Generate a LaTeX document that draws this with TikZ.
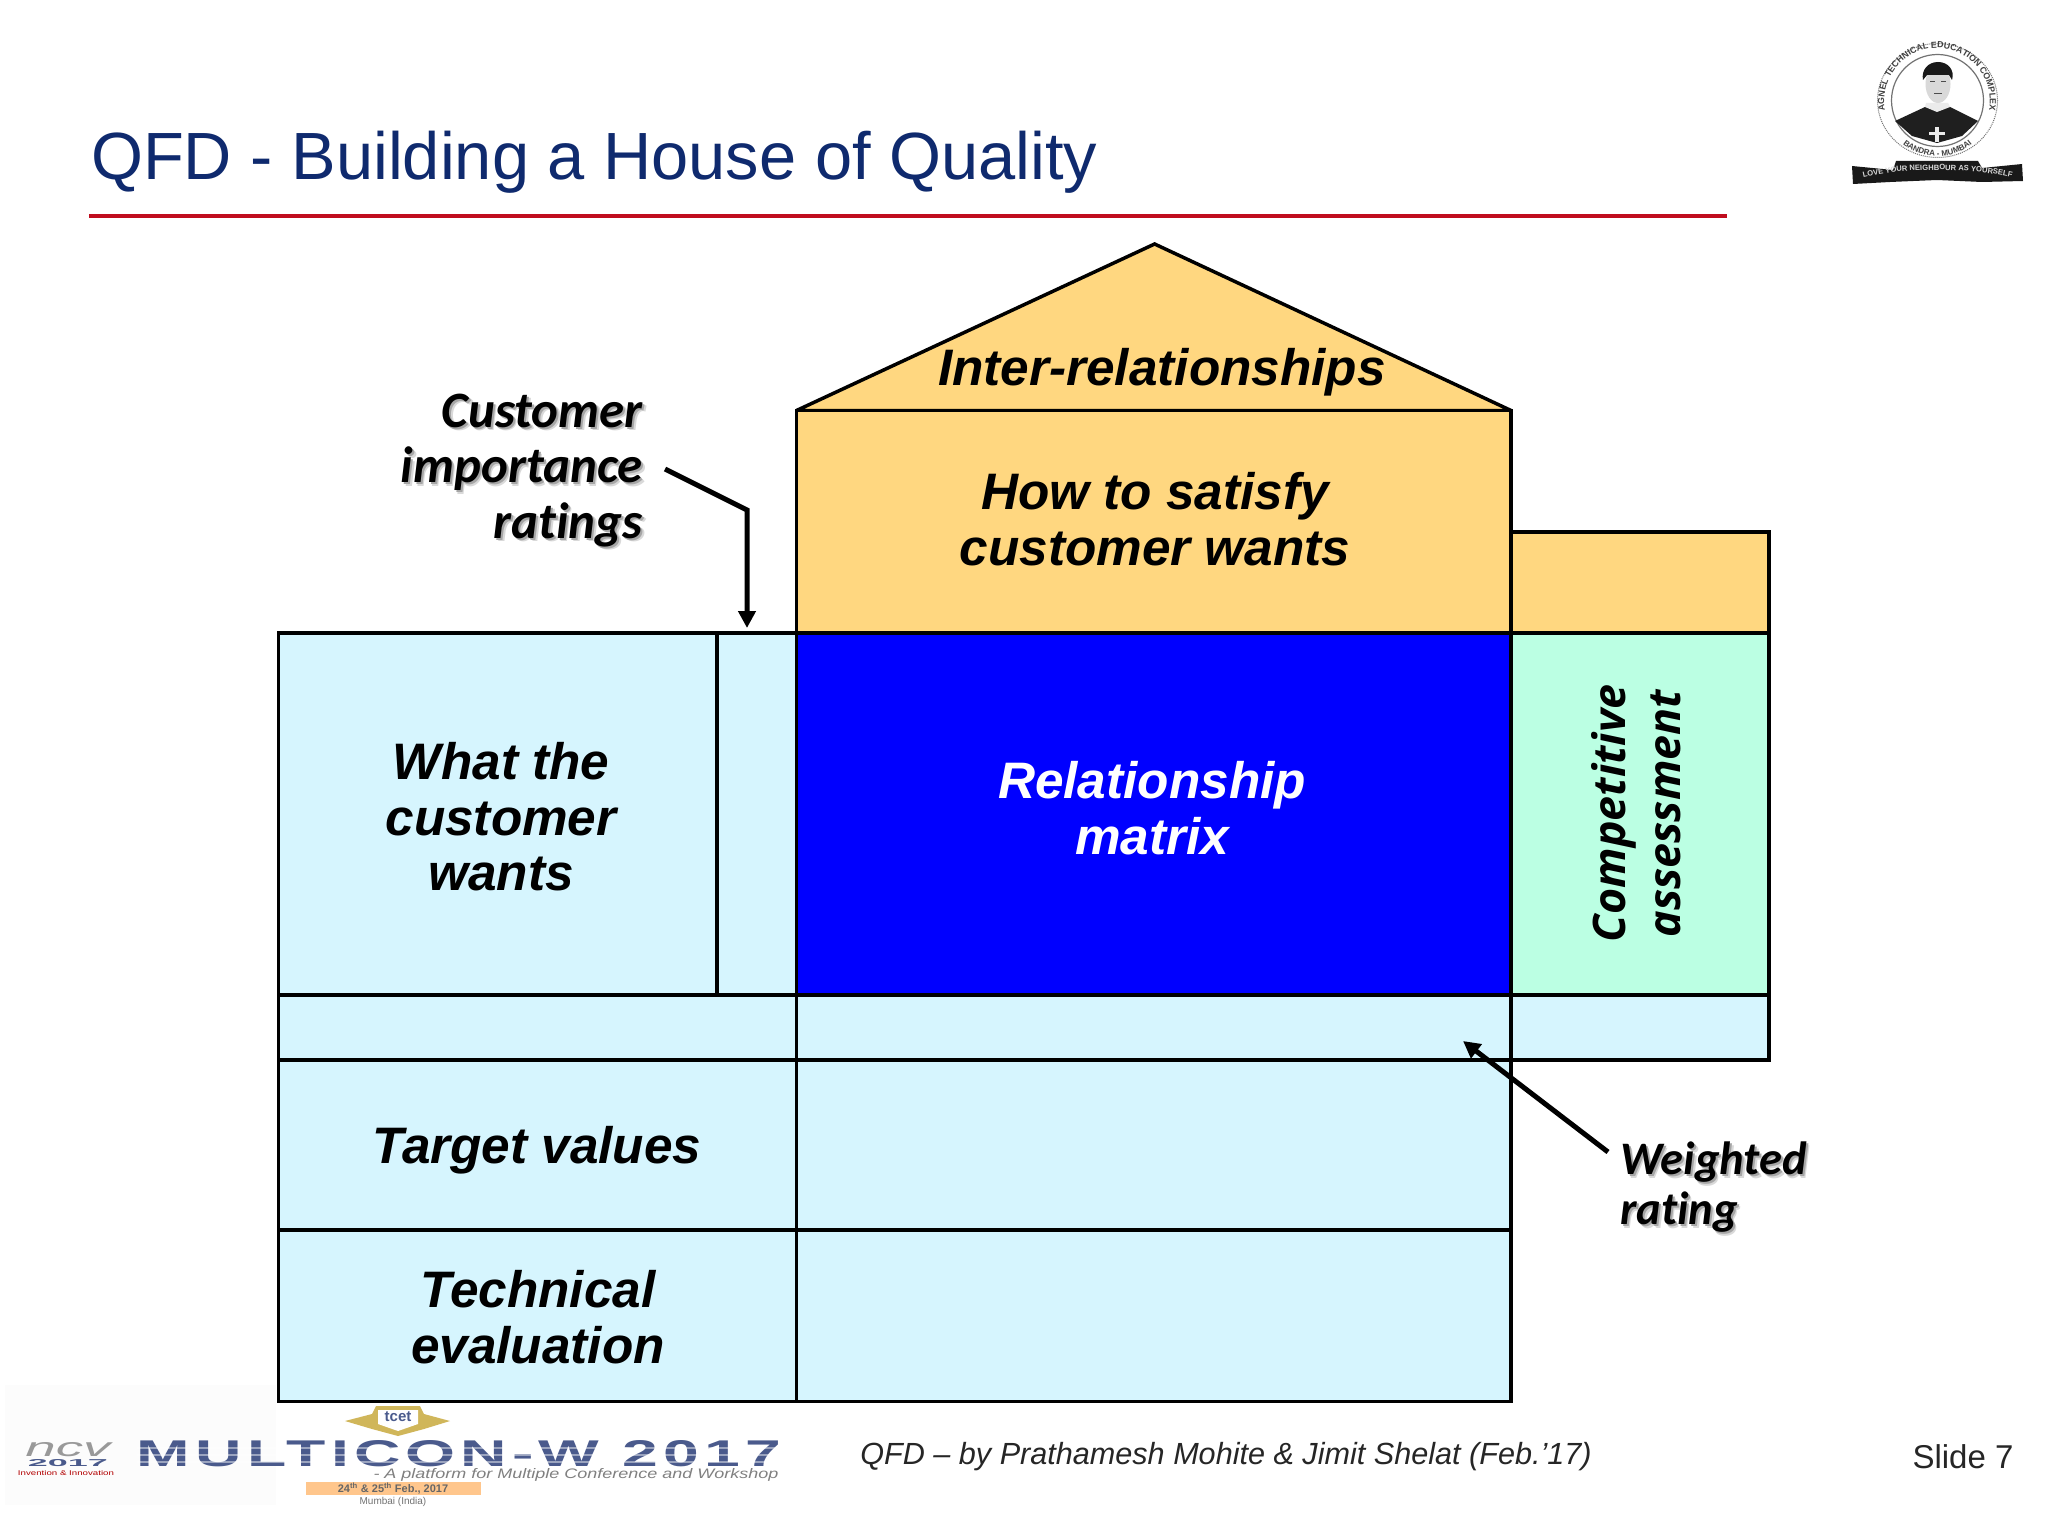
\documentclass[tikz,border=0pt]{standalone}
\usepackage{fontspec}
\setmainfont{Liberation Sans}
\newfontfamily\calfont[Ligatures=NoCommon]{Carlito}
\newfontfamily\opfont{Open Sans}
\usetikzlibrary{arrows.meta,decorations.text}
\definecolor{cyanfill}{HTML}{D6F5FE}
\definecolor{orangefill}{HTML}{FFD780}
\definecolor{mintfill}{HTML}{BBFFE3}
\definecolor{titleblue}{HTML}{0F2A6E}
\definecolor{rulered}{HTML}{C00D1E}
\definecolor{multiblue}{HTML}{4A5A8C}
\newcommand{\sh}[1]{\leavevmode\rlap{\hspace{3.5pt}\raisebox{-3.5pt}{\textcolor{black!15}{#1}}}\rlap{\hspace{2pt}\raisebox{-2pt}{\textcolor{black!35}{#1}}}#1}
\tikzset{
  x=1bp,y=-1bp,
  houseline/.style={draw=black,line width=3.5bp,line join=miter,miter limit=4},
  cell/.style={houseline,fill=cyanfill,inner sep=0pt,outer sep=0pt,rectangle},
  roofcell/.style={houseline,fill=orangefill,inner sep=0pt,outer sep=0pt,rectangle},
  mintcell/.style={houseline,fill=mintfill,inner sep=0pt,outer sep=0pt,rectangle},
  matrixcell/.style={houseline,fill=blue,inner sep=0pt,outer sep=0pt,rectangle},
  bodytext/.style={font=\fontsize{51.3bp}{55.5bp}\selectfont\bfseries\itshape,align=center,inner sep=0pt},
  calout/.style={font=\calfont\fontsize{51bp}{55.5bp}\selectfont\bfseries\itshape,inner sep=0pt},
  sidetext/.style={font=\opfont\fontsize{44.8bp}{50bp}\selectfont\bfseries\itshape,inner sep=0pt,rotate=90,anchor=base},
  callarrow/.style={line width=5bp,-{Triangle[length=17bp,width=17bp]}},
}
\begin{document}
\begin{tikzpicture}
\useasboundingbox (0,0) rectangle (2048,1513);
\fill[white] (0,0) rectangle (2048,1513);
% title
\node[anchor=west,inner sep=0pt,text=titleblue,font=\fontsize{66.8bp}{70bp}\selectfont] (title) at (91,162) {QFD - Building a House of Quality};
\draw[rulered,line width=3.5bp] (89,216) coordinate (ruleA) -- (1727,216) coordinate (ruleB);
% top-right logo
\coordinate (logoC) at (1937.5,100.5);
\draw[black!55,line width=1bp,densely dotted] (logoC) ellipse[x radius=60,y radius=57];
\draw[black!55,line width=1.2bp] (logoC) circle[radius=46];
\fill[black!88] (1895,121) -- (1925,107) -- (1950,107) -- (1978,121) -- (1962,136) -- (1937,143) -- (1912,136) -- cycle;
\fill[white!92!black] (1925,107) -- (1937,112) -- (1950,107) -- (1948,103) -- (1926,103) -- cycle;
\fill[black!8] (1935,127) rectangle (1939,142);
\fill[black!8] (1929,132) rectangle (1945,135);
\fill[black!15] (1938,84) ellipse[x radius=12.5,y radius=19];
\fill[black!90] (1923,80) .. controls (1921,70) and (1928,62) .. (1938,62) .. controls (1948,62) and (1955,70) .. (1952,80) -- (1949,75) -- (1927,75) -- cycle;
\draw[black!70,line width=1bp] (1930,82) -- (1935,82) (1941,82) -- (1946,82) (1934,94) -- (1942,94);
\path[postaction={decorate,decoration={text along path,text align=center,text={|\fontsize{8.8bp}{10bp}\selectfont\bfseries\color{black!75}|AGNEL TECHNICAL EDUCATION COMPLEX}}}]
  (1889,123) .. controls (1873,88) and (1899,48) .. (1937,48) .. controls (1975,48) and (2001,88) .. (1985,123);
\path[postaction={decorate,decoration={text along path,text align=center,text={|\fontsize{8bp}{9bp}\selectfont\bfseries\color{black!75}|BANDRA - MUMBAI}}}]
  (1893,133) .. controls (1912,164) and (1962,164) .. (1982,133);
\fill[black!90] (1852,166) -- (1893,170) -- (1896,161) -- (1978,161) -- (1982,168) -- (2022,164) -- (2023,181) -- (1982,182) -- (1937,180) -- (1890,182) -- (1853,184) -- cycle;
\path[postaction={decorate,decoration={text along path,text align=center,text={|\fontsize{7.6bp}{9bp}\selectfont\bfseries\color{white!85!black}|LOVE YOUR NEIGHBOUR AS YOURSELF}}}]
  (1857,179) .. controls (1900,167) and (1975,167) .. (2018,179);
% house
\filldraw[houseline,fill=orangefill] (796.5,410.5) -- (1154.6,244) -- (1511,410.5) -- cycle;
\node[roofcell,minimum width=714.5bp,minimum height=222.5bp,anchor=north west] (how) at (796.5,410.5) {};
\node[roofcell,minimum width=258bp,minimum height=101bp,anchor=north west] (compTop) at (1511,532) {};
\node[cell,minimum width=438.5bp,minimum height=362bp,anchor=north west] (wants) at (278.5,633) {};
\node[cell,minimum width=79.5bp,minimum height=362bp,anchor=north west] (import) at (717,633) {};
\node[matrixcell,minimum width=714.5bp,minimum height=362bp,anchor=north west] (matrix) at (796.5,633) {};
\node[mintcell,minimum width=258bp,minimum height=362bp,anchor=north west] (comp) at (1511,633) {};
\node[cell,minimum width=518bp,minimum height=65bp,anchor=north west] (r1a) at (278.5,995) {};
\node[cell,minimum width=714.5bp,minimum height=65bp,anchor=north west] (r1b) at (796.5,995) {};
\node[cell,minimum width=258bp,minimum height=65bp,anchor=north west] (r1c) at (1511,995) {};
\node[cell,minimum width=518bp,minimum height=170bp,anchor=north west] (r2a) at (278.5,1060) {};
\node[cell,minimum width=714.5bp,minimum height=170bp,anchor=north west] (r2b) at (796.5,1060) {};
\node[cell,minimum width=518bp,minimum height=171.5bp,anchor=north west] (r3a) at (278.5,1230) {};
\node[cell,minimum width=714.5bp,minimum height=171.5bp,anchor=north west] (r3b) at (796.5,1230) {};
% house text
\node[bodytext] (tInter) at (1162,372) {Inter-relationships};
\node[bodytext] (tHow) at (1155,519) {How to satisfy\\customer wants};
\node[bodytext] (tWhat) at (501,817) {What the\\customer\\wants};
\node[bodytext,text=white] (tRel) at (1152,808) {Relationship\\matrix};
\node[bodytext] (tTarget) at (537,1150) {Target values};
\node[bodytext] (tTech) at (538,1317) {Technical\\evaluation};
\node[sidetext] (tComp) at (1625,813.5) {Competitive};
\node[sidetext] (tAss) at (1680,813.5) {assessment};
% callouts
\node[calout,align=right,anchor=east] (tCust) at (643,472) {\sh{Customer}\\\sh{importance}\\\sh{ratings}};
\node[calout,align=left,anchor=west,font=\calfont\fontsize{46.6bp}{50bp}\selectfont\bfseries\itshape] (tWeight) at (1620,1189) {\sh{Weighted}\\\sh{rating}};
\coordinate (custStart) at (665,469);
\coordinate (custBend) at (747,510);
\coordinate (custEnd) at (747,628);
\coordinate (weightStart) at (1608,1152);
\coordinate (weightEnd) at (1463,1041);
\draw[callarrow,line join=miter] (custStart) -- (custBend) -- (custEnd);
\draw[callarrow] (weightStart) -- (weightEnd);
% footer
\node[inner sep=0pt,font=\fontsize{30.6bp}{36bp}\selectfont\itshape,text=black!85] (foot) at (1226,1457) {QFD – by Prathamesh Mohite \& Jimit Shelat (Feb.’17)};
\node[inner sep=0pt,font=\fontsize{33bp}{36bp}\selectfont,text=black!85] (slide) at (1963,1457) {Slide 7};
% bottom logo
\fill[black!1] (5,1385) rectangle (276,1505);
\node[inner sep=0pt,text=multiblue] (multi) at (459,1454) {\resizebox{644bp}{26bp}{\addfontfeatures{LetterSpace=8}\bfseries MULTICON-W 2017}};
\foreach \yy in {1447,1454,1461}{\fill[white,opacity=.45] (137,\yy) rectangle (781,\yy+1.5);}
\node[inner sep=0pt,text=black!50,font=\itshape] (platform) at (576,1475) {\resizebox{405bp}{10bp}{- A platform for Multiple Conference and Workshop}};
\fill[orange!45] (306,1482) rectangle (481,1495);
\node[inner sep=0pt,text=black!60,font=\fontsize{11bp}{12bp}\selectfont\bfseries] (dates) at (393,1488.5) {24\textsuperscript{th} \& 25\textsuperscript{th} Feb., 2017};
\node[inner sep=0pt,text=black!55,font=\fontsize{10bp}{11bp}\selectfont] (mumbai) at (393,1502) {Mumbai (India)};
\fill[yellow!60!orange!75!black,opacity=.8] (345,1421) -- (372,1414) -- (376,1406) -- (420,1406) -- (424,1414) -- (450,1421) -- (424,1429) -- (398,1436) -- (372,1429) -- cycle;
\fill[white] (378,1410) -- (418,1410) -- (418,1424) -- (398,1431) -- (378,1424) -- cycle;
\node[inner sep=0pt,text=multiblue,font=\fontsize{15bp}{16bp}\selectfont\bfseries] (tcet) at (398,1417) {tcet};
\node[inner sep=0pt,text=black!40,font=\itshape] (ncv) at (68,1450) {\resizebox{85bp}{14bp}{ncv}};
\node[inner sep=0pt,text=multiblue,font=\bfseries] (y17) at (68,1463) {\resizebox{80bp}{7bp}{2017}};
\node[inner sep=0pt,text=red!70!black] (inv) at (66,1473) {\resizebox{96bp}{5bp}{Invention \& Innovation}};
\end{tikzpicture}
\end{document}
